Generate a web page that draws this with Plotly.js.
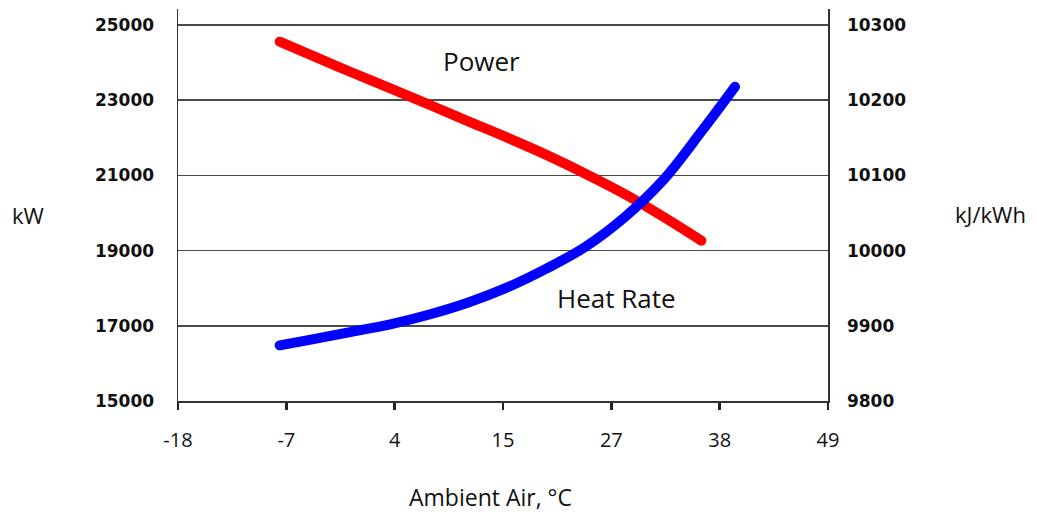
<!DOCTYPE html>
<html>
<head>
<meta charset="utf-8">
<script src="https://cdn.plot.ly/plotly-3.0.1.min.js"></script>
<style>
  html, body { margin:0; padding:0; background:#fff; }
  .js-line { stroke-linecap: round; stroke-linejoin: round; }
</style>
</head>
<body>
<div id="chart" style="width:1037px;height:514px;"></div>
<script>
// ---- data (°C, kW, kJ/kWh) ----
const powerTemp = [-7.35, -4, 0, 4, 8, 12, 16, 20, 24, 28, 32, 35.9];
const powerKW   = [24556, 24184, 23743, 23317, 22879, 22437, 22003, 21545, 21045, 20508, 19899, 19263];

const heatRateTemp = [-7.35, -4, 0, 4, 8, 12, 16, 20, 24, 28, 32, 36, 39.35];
const heatRateKJ   = [9874, 9882, 9892, 9902, 9915, 9931, 9951, 9976, 10005, 10044, 10094, 10160, 10218];

// x ticks (labels in °C, spaced as 0..120 °F)
const xTickF     = [0, 20, 40, 60, 80, 100, 120];
const xTickText  = ['-18', '-7', '4', '15', '27', '38', '49'];
const leftTicks  = [15000, 17000, 19000, 21000, 23000, 25000];
const rightTicks = [9800, 9900, 10000, 10100, 10200, 10300];

const f2c = f => (f - 32) * 5 / 9;
const xTickVals = xTickF.map(f2c);

// layout geometry (pixels)
const W = 1037, H = 514, L = 178, R = 828, T = 9, B = 401;
const px = x => (x - L) / (R - L);
const py = y => (B - y) / (B - T);

const tickFontY = {family:'DejaVu Sans', size:17, color:'#111', weight:'bold'};

const traces = [
  {x: powerTemp, y: powerKW, type:'scatter', mode:'lines',
   line:{color:'#ff0000', width:10, shape:'spline', smoothing:1}, yaxis:'y', hoverinfo:'skip'},
  {x: heatRateTemp, y: heatRateKJ, type:'scatter', mode:'lines',
   line:{color:'#0000ff', width:10, shape:'spline', smoothing:1}, yaxis:'y2', hoverinfo:'skip'}
];

const layout = {
  width: W, height: H,
  margin: {l: L, r: W - R, t: T, b: H - B, pad: 0},
  paper_bgcolor: '#fff', plot_bgcolor: '#fff',
  showlegend: false,
  xaxis: {
    range: [f2c(0), f2c(120)],
    tickmode: 'array', tickvals: xTickVals, ticktext: xTickText,
    ticks: 'outside', ticklen: 7, tickwidth: 2.5, tickcolor: '#222',
    showline: true, linecolor: '#333', linewidth: 1.5,
    showgrid: false, zeroline: false,
    tickfont: {family:'Open Sans', size:20, color:'#111'},
    ticklabelstandoff: 13
  },
  yaxis: {
    range: [15000, 15000 + 10000 * (B - T) / (B - 25)],
    tickmode: 'array', tickvals: leftTicks,
    tickformat: 'd',
    showgrid: true, gridcolor: '#4a4a4a', gridwidth: 1.5,
    showline: true, linecolor: '#333', linewidth: 1.5,
    zeroline: false, ticks: '',
    tickfont: tickFontY, ticklabelstandoff: 19
  },
  yaxis2: {
    overlaying: 'y', side: 'right',
    range: [9800, 9800 + 500 * (B - T) / (B - 25)],
    tickmode: 'array', tickvals: rightTicks,
    tickformat: 'd',
    showgrid: false, showline: true, linecolor: '#333', linewidth: 1.5,
    zeroline: false, ticks: '',
    tickfont: tickFontY, ticklabelstandoff: 14
  },
  annotations: [
    {text:'Power', xref:'paper', yref:'paper', x:px(481), y:py(61), showarrow:false,
     xanchor:'center', yanchor:'middle', font:{family:'Open Sans', size:26, color:'#111'}},
    {text:'Heat Rate', xref:'paper', yref:'paper', x:px(616), y:py(298), showarrow:false,
     xanchor:'center', yanchor:'middle', font:{family:'Open Sans', size:26, color:'#111'}},
    {text:'kW', xref:'paper', yref:'paper', x:px(28), y:py(215), showarrow:false,
     xanchor:'center', yanchor:'middle', font:{family:'Open Sans', size:22, color:'#111'}},
    {text:'kJ/kWh', xref:'paper', yref:'paper', x:px(990), y:py(214), showarrow:false,
     xanchor:'center', yanchor:'middle', font:{family:'Open Sans', size:22, color:'#111'}},
    {text:'Ambient Air, °C', xref:'paper', yref:'paper', x:px(490), y:py(497), showarrow:false,
     xanchor:'center', yanchor:'middle', font:{family:'Open Sans', size:23, color:'#111'}}
  ]
};

Plotly.newPlot('chart', traces, layout, {staticPlot:true, displayModeBar:false});
</script>
</body>
</html>
